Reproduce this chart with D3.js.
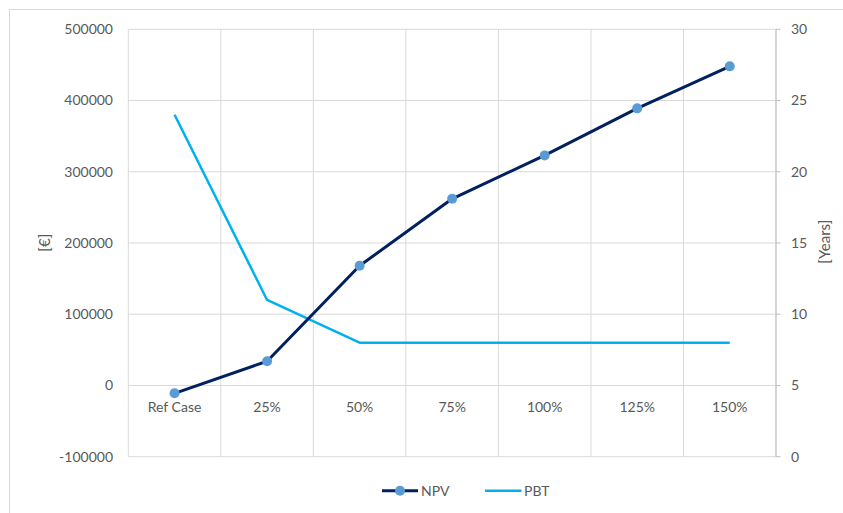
<!DOCTYPE html>
<html>
<head>
<meta charset="utf-8">
<script src="https://cdn.jsdelivr.net/npm/d3@7"></script>
<style>
  html, body { margin: 0; padding: 0; background: #fff; }
  svg { display: block; }
  text { font-family: Lato, "Open Sans", sans-serif; fill: #595959; }
</style>
</head>
<body>
<svg id="chart" width="843" height="513"></svg>
<script>
// Scenario categories and series
const categories = ["Ref Case", "25%", "50%", "75%", "100%", "125%", "150%"];
const npv = [-11000, 34000, 168000, 262000, 323000, 389000, 448000];
const pbt = [24, 11, 8, 8, 8, 8, 8];
const leftTicks = [-100000, 0, 100000, 200000, 300000, 400000, 500000];
const rightTicks = [0, 5, 10, 15, 20, 25, 30];

const svg = d3.select("#chart");
const W = 843, H = 513;
const plot = { left: 128.3, right: 776, top: 29.3, bottom: 456.7 };

// Chart frame
svg.append("rect").attr("x", 9.5).attr("y", 9.5)
  .attr("width", W).attr("height", H)
  .attr("fill", "#fff").attr("stroke", "#d9d9d9").attr("stroke-width", 1);

const xBand = d3.scaleBand().domain(categories).range([plot.left, plot.right]);
const x = c => xBand(c) + xBand.bandwidth() / 2;
const yL = d3.scaleLinear().domain([-100000, 500000]).range([plot.bottom, plot.top]);
const yR = d3.scaleLinear().domain([0, 30]).range([plot.bottom, plot.top]);

const grid = svg.append("g").attr("stroke", "#d9d9d9").attr("stroke-width", 1);
// horizontal gridlines
grid.selectAll("line.h").data(leftTicks).join("line")
  .attr("x1", plot.left).attr("x2", plot.right)
  .attr("y1", d => yL(d)).attr("y2", d => yL(d));
// vertical gridlines on category boundaries
const edges = categories.map(c => xBand(c)).concat([plot.right]);
grid.selectAll("line.v").data(edges).join("line")
  .attr("x1", d => d).attr("x2", d => d)
  .attr("y1", plot.top).attr("y2", plot.bottom);

// Right axis line and outward ticks
const rAxis = svg.append("g").attr("stroke", "#bfbfbf").attr("stroke-width", 1);
rAxis.append("line").attr("x1", plot.right).attr("x2", plot.right)
  .attr("y1", plot.top).attr("y2", plot.bottom);
rAxis.selectAll("line.t").data(rightTicks).join("line")
  .attr("x1", plot.right).attr("x2", plot.right + 4.5)
  .attr("y1", d => yR(d)).attr("y2", d => yR(d));

// Left tick labels (plain hyphen for negatives)
svg.append("g").selectAll("text").data(leftTicks).join("text")
  .attr("x", 113).attr("y", d => yL(d)).attr("dy", "0.35em")
  .attr("text-anchor", "end").attr("font-size", 14)
  .text(d => String(d));

// Right tick labels
svg.append("g").selectAll("text").data(rightTicks).join("text")
  .attr("x", 791).attr("y", d => yR(d)).attr("dy", "0.35em")
  .attr("text-anchor", "start").attr("font-size", 14)
  .text(d => d);

// Category labels below the zero line
svg.append("g").selectAll("text").data(categories).join("text")
  .attr("x", d => x(d)).attr("y", yL(0) + 22).attr("dy", "0.35em")
  .attr("text-anchor", "middle").attr("font-size", 14)
  .text(d => d);

// Axis titles
svg.append("text").attr("transform", "translate(44.5,242.7) rotate(-90)")
  .attr("text-anchor", "middle").attr("dy", "0.35em").attr("font-size", 15).text("[€]");
svg.append("text").attr("transform", "translate(825,241.7) rotate(-90)")
  .attr("text-anchor", "middle").attr("dy", "0.35em").attr("font-size", 15).text("[Years]");

// PBT line (right axis)
const pbtLine = d3.line().x((d, i) => x(categories[i])).y(d => yR(d));
svg.append("path").datum(pbt).attr("d", pbtLine)
  .attr("fill", "none").attr("stroke", "#00b0f0").attr("stroke-width", 2.5)
  .attr("stroke-linejoin", "round");

// NPV line with markers (left axis)
const npvLine = d3.line().x((d, i) => x(categories[i])).y(d => yL(d));
svg.append("path").datum(npv).attr("d", npvLine)
  .attr("fill", "none").attr("stroke", "#002060").attr("stroke-width", 3)
  .attr("stroke-linejoin", "round");
svg.append("g").selectAll("circle").data(npv).join("circle")
  .attr("cx", (d, i) => x(categories[i])).attr("cy", d => yL(d))
  .attr("r", 5).attr("fill", "#5b9bd5");

// Legend
const lg = svg.append("g");
lg.append("line").attr("x1", 382).attr("x2", 418).attr("y1", 490.7).attr("y2", 490.7)
  .attr("stroke", "#002060").attr("stroke-width", 3);
lg.append("circle").attr("cx", 400).attr("cy", 490.7).attr("r", 5).attr("fill", "#5b9bd5");
lg.append("text").attr("x", 421).attr("y", 490.7).attr("dy", "0.35em")
  .attr("font-size", 14).text("NPV");
lg.append("line").attr("x1", 485).attr("x2", 521.5).attr("y1", 490.7).attr("y2", 490.7)
  .attr("stroke", "#00b0f0").attr("stroke-width", 2.5);
lg.append("text").attr("x", 524).attr("y", 490.7).attr("dy", "0.35em")
  .attr("font-size", 14).text("PBT");
</script>
</body>
</html>
